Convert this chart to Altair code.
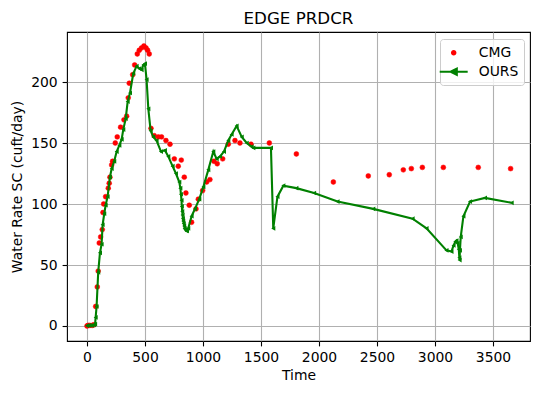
import altair as alt
import pandas as pd

# ---- data ----
cmg_t = [0, 10, 25, 45, 60, 75, 89, 97, 106, 118, 132, 138, 144, 161, 184, 192, 198, 213, 221, 244,
         261, 290, 319, 342, 356, 365, 394, 411, 434, 451, 471, 491, 509, 523, 537, 552, 580, 615, 643,
         681, 716, 753, 787, 813, 839, 853, 882, 902, 940, 960, 997, 1032, 1060, 1095, 1123, 1170, 1218,
         1276, 1319, 1414, 1572, 1805, 2124, 2425, 2606, 2727, 2796, 2891, 3072, 3373, 3652]
cmg_y = [0, 0.5, 0.5, 0.5, 1, 16, 32, 45, 68, 73, 79, 93, 100, 106, 113, 117, 122, 132, 135, 150,
         155, 163, 169, 172, 187, 199, 206, 214, 223, 226, 228, 229.5, 228, 226, 223, 162, 156, 155, 155,
         152, 149, 137, 131, 136, 122, 109, 99, 85, 96, 104, 111, 118, 120, 135, 133, 137, 149,
         152, 150, 149, 150, 141, 118, 123, 124, 128, 129, 130, 130, 130, 129]

ours_t = [0, 15, 30, 45, 60, 70, 75, 83, 97, 112, 126, 135, 149, 161, 178, 198, 213, 235, 256, 279,
          299, 313, 334, 351, 371, 399, 428, 451, 471, 486, 500, 514, 529, 549, 572, 600, 638, 672, 701,
          738, 767, 796, 805, 810, 815, 818, 821, 824, 827, 830, 834, 838, 842, 848, 855, 862, 873, 902,
          931, 968, 1003, 1046, 1089, 1118, 1147, 1181, 1218, 1247, 1290, 1334, 1377, 1419, 1434, 1586,
          1606, 1642, 1693, 1805, 1958, 2160, 2468, 2807, 2927, 3099, 3142, 3160, 3175, 3185, 3195, 3205,
          3210, 3212, 3215, 3222, 3245, 3302, 3431, 3661]
ours_y = [0.3, 0.5, 0.5, 0.5, 0.8, 1.5, 7, 16, 44, 60, 67, 83, 92, 99, 106, 122, 129, 135, 143, 148,
          153, 161, 170, 184, 191, 207, 213, 211, 210, 214, 215, 202, 178, 160, 155, 152, 143, 144, 139,
          131, 125, 118, 113, 108, 103, 98, 94, 91, 88, 86, 84, 82, 80, 79, 78, 78, 80, 90,
          96, 104, 114, 128, 143, 137, 139, 143, 152, 157, 164, 155, 150, 147, 146, 146,
          80, 106, 115, 113, 109, 102, 96, 88, 80, 62, 61, 66, 69, 70, 68, 63,
          56, 54, 62, 73, 90, 102, 105, 101]

series_names = ["CMG", "OURS"]
series_colors = ["#ff0000", "#008000"]
x_ticks = [0, 500, 1000, 1500, 2000, 2500, 3000, 3500]
y_ticks = [0, 50, 100, 150, 200]

cmg = pd.DataFrame({"t": cmg_t, "y": cmg_y, "series": "CMG"})
ours = pd.DataFrame({"t": ours_t, "y": ours_y, "series": "OURS", "i": list(range(len(ours_t)))})

FONT = "DejaVu Sans"
xs = alt.Scale(domain=[-172, 3819], nice=False, zero=False)
ys = alt.Scale(domain=[-12.3, 241], nice=False, zero=False)

xax = alt.Axis(values=x_ticks, title="Time", titlePadding=4, format="d")
yax = alt.Axis(values=y_ticks, title="Water Rate SC (cuft/day)", titlePadding=6, format="d")

shape_expr = ("datum.value === 'OURS' ? 'M-2,0L2,0M-0.45,0L0.45,-0.45L0.45,0.45Z' : "
              "'M0.25,0A0.25,0.25,0,1,1,-0.25,0A0.25,0.25,0,1,1,0.25,0Z'")

leg = alt.Legend(
    title=None, orient="top-right", offset=6.5, padding=5.7,
    strokeColor="#cccccc", fillColor="rgba(255,255,255,0.8)", cornerRadius=3,
    labelFont=FONT, labelFontSize=13.9, labelColor="black",
    symbolSize=196, labelOffset=17, rowPadding=4,
    symbolType=alt.ExprRef(expr=shape_expr), symbolStrokeWidth=2, symbolOpacity=1,
)
cscale = alt.Scale(domain=series_names, range=series_colors)

cmg_pts = alt.Chart(cmg).mark_point(filled=True, size=24, opacity=1, strokeWidth=0.5).encode(
    x=alt.X("t:Q", scale=xs, axis=xax),
    y=alt.Y("y:Q", scale=ys, axis=yax),
    color=alt.Color("series:N", scale=cscale, legend=leg),
    stroke=alt.Stroke("series:N", scale=cscale, legend=leg),
)

ours_line = alt.Chart(ours).mark_line(color="#008000", strokeWidth=2.1).encode(
    x=alt.X("t:Q", scale=xs),
    y=alt.Y("y:Q", scale=ys),
    order="i:Q",
)

ours_pts = alt.Chart(ours).mark_point(filled=True, shape="triangle-left", size=22, color="#008000", opacity=1).encode(
    x=alt.X("t:Q", scale=xs),
    y=alt.Y("y:Q", scale=ys),
)

chart = alt.layer(cmg_pts, ours_line, ours_pts).properties(
    width=463, height=309,
    title=alt.TitleParams("EDGE PRDCR", font=FONT, fontSize=16.7, fontWeight="normal",
                          color="black", anchor="middle", frame="group", offset=4),
    autosize=alt.AutoSizeParams(type="none"),
    padding={"left": 59, "top": 24, "right": 2, "bottom": 42},
    background="white",
).configure_view(
    stroke="black", strokeWidth=1.1,
).configure_axis(
    labelFont=FONT, labelFontSize=13.9, labelColor="black",
    titleFont=FONT, titleFontSize=13.9, titleFontWeight="normal", titleColor="black",
    tickSize=4.9, tickColor="black", tickWidth=1.1, labelPadding=4.9,
    domain=False, grid=True, gridColor="#b0b0b0", gridWidth=1.1,
)

chart.save("out.html", embed_options={"renderer": "svg", "actions": False})
